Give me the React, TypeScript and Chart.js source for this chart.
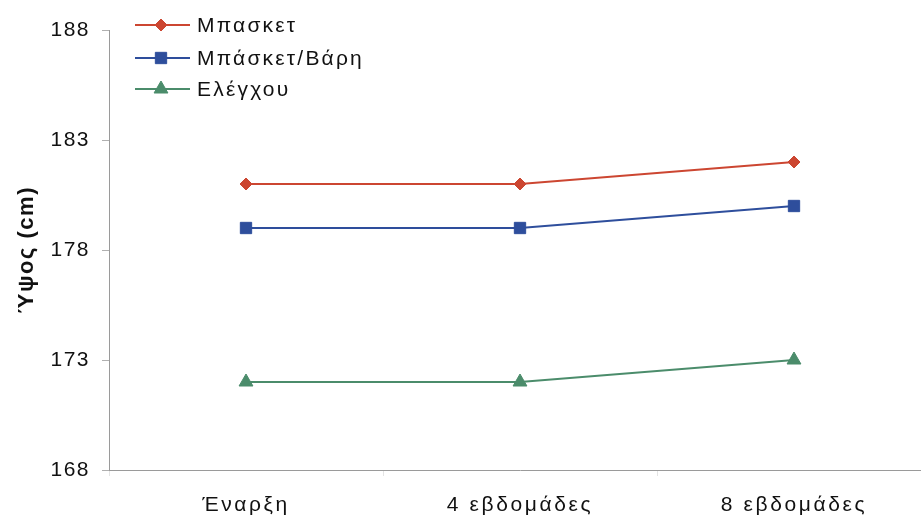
import React, { useEffect, useRef } from "react";
import { Chart, registerables } from "chart.js";
import { drawPoint } from "chart.js/helpers";

Chart.register(...registerables);

const categories = ["Έναρξη", "4 εβδομάδες", "8 εβδομάδες"];
const seriesNames = ["Μπασκετ", "Μπάσκετ/Βάρη", "Ελέγχου"];
const basket = [181, 181, 182];
const basketWeights = [179, 179, 180];
const control = [172, 172, 173];
const yTicks = [168, 173, 178, 183, 188];

const FONT = "'Liberation Sans', Arial, sans-serif";

const spacingPlugin = {
  id: "spacing",
  beforeDraw(chart: any) {
    // y ticks + y title are drawn before the datasets
    chart.ctx.letterSpacing = "1.5px";
  },
  afterDatasetsDraw(chart: any) {
    // x tick labels are drawn after the datasets (ticks.z = 1)
    chart.ctx.letterSpacing = "2.6px";
  },
  afterDraw(chart: any) {
    chart.ctx.letterSpacing = "0px";
  },
};

const legendPlugin = {
  id: "customLegend",
  afterDraw(chart: any) {
    const ctx = chart.ctx;
    const rows = [25, 58, 89];
    chart.data.datasets.forEach((ds: any, i: number) => {
      const y = rows[i];
      ctx.save();
      ctx.strokeStyle = ds.borderColor;
      ctx.lineWidth = 2;
      ctx.beginPath();
      ctx.moveTo(135, y);
      ctx.lineTo(190, y);
      ctx.stroke();
      ctx.fillStyle = ds.pointBackgroundColor;
      ctx.strokeStyle = ds.borderColor;
      ctx.lineWidth = 1;
      drawPoint(ctx, { pointStyle: ds.pointStyle, radius: ds.pointRadius, borderWidth: 1, rotation: 0 }, 161, y);
      ctx.fillStyle = "#111";
      ctx.font = `21px ${FONT}`;
      ctx.letterSpacing = "2.2px";
      ctx.textBaseline = "middle";
      ctx.textAlign = "left";
      ctx.fillText(ds.label, 197, y + 1);
      ctx.restore();
    });
  },
};

export default function App() {
  const ref = useRef<HTMLCanvasElement>(null);
  useEffect(() => {
    if (!ref.current) return;
    const mk = (label: string, data: number[], color: string, style: string, r: number) => ({
      label,
      data,
      borderColor: color,
      backgroundColor: color,
      pointBackgroundColor: color,
      pointBorderColor: color,
      pointStyle: style,
      pointRadius: r,
      pointBorderWidth: 1,
      borderWidth: 2,
      tension: 0,
    });
    const chart = new Chart(ref.current, {
      type: "line",
      data: {
        labels: categories,
        datasets: [
          mk(seriesNames[0], basket, "#CC4631", "rectRot", 6),
          mk(seriesNames[1], basketWeights, "#2E4E9C", "rect", 8),
          mk(seriesNames[2], control, "#4B8C6B", "triangle", 8),
        ],
      },
      options: {
        responsive: false,
        animation: false,
        devicePixelRatio: 1,
        layout: { padding: { left: 0, right: 9, top: 30, bottom: 0 } },
        plugins: { legend: { display: false }, tooltip: { enabled: false } },
        scales: {
          x: {
            type: "category",
            offset: true,
            grid: {
              display: true,
              offset: true,
              drawOnChartArea: false,
              drawTicks: true,
              tickLength: 6,
              color: "#e4e4e4",
            },
            border: { display: true, color: "#9a9a9a", width: 1 },
            ticks: { color: "#111", font: { family: FONT, size: 21 }, padding: 17, maxRotation: 0, z: 1 },
            afterFit(scale: any) {
              scale.height = 52;
            },
          },
          y: {
            min: 168,
            max: 188,
            afterBuildTicks(scale: any) {
              scale.ticks = yTicks.map((v) => ({ value: v }));
            },
            grid: {
              display: true,
              drawOnChartArea: false,
              drawTicks: true,
              tickLength: 7,
              color: "#b0b0b0",
            },
            border: { display: true, color: "#9a9a9a", width: 1 },
            ticks: { color: "#111", font: { family: FONT, size: 21 }, padding: 12 },
            title: {
              display: true,
              text: "Ύψος (cm)",
              color: "#111",
              font: { family: FONT, size: 22, weight: "bold" },
              padding: { top: 14, bottom: 0 },
            },
            afterFit(scale: any) {
              scale.width = 109;
            },
          },
        },
      },
      plugins: [spacingPlugin, legendPlugin],
    } as any);
    return () => chart.destroy();
  }, []);
  return (
    <div style={{ position: "absolute", left: 0, top: 0, width: 921, height: 522, overflow: "hidden", background: "#fff" }}>
      <canvas ref={ref} width={940} height={522} style={{ width: 940, height: 522, display: "block" }} />
    </div>
  );
}
